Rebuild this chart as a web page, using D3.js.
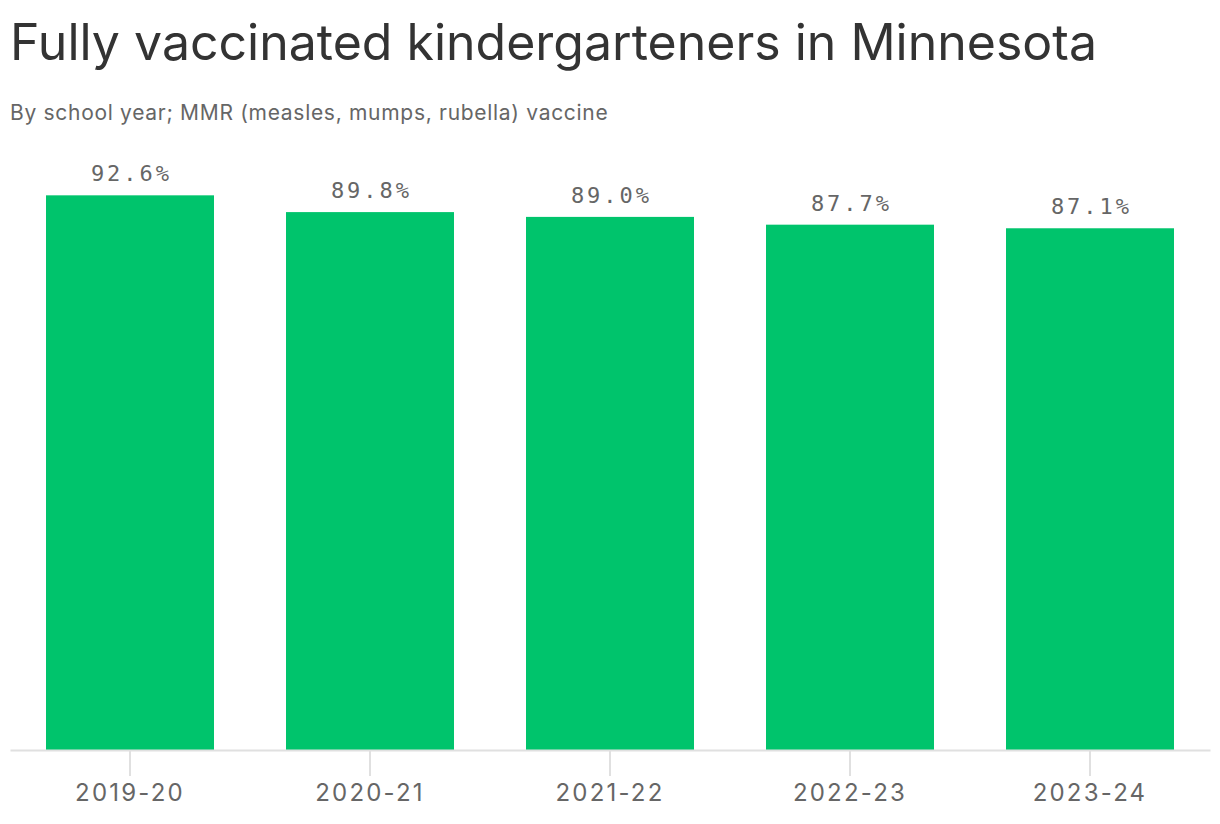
<!DOCTYPE html>
<html lang="en">
  <head>
    <meta charset="UTF-8" />
    <title>Fully vaccinated kindergarteners in Minnesota</title>
    <script src="https://d3js.org/d3.v7.min.js"></script>
    <style>
      body {
        margin: 0;
        background: #fff;
        font-family: Inter, sans-serif;
      }
      .title {
        fill: #333;
        font-size: 50px;
        letter-spacing: 0px;
      }
      .subtitle {
        fill: #666;
        font-size: 21px;
        letter-spacing: 0.7px;
      }
      .value {
        fill: #666;
        font-family: "DejaVu Sans Mono", monospace;
        font-size: 22px;
        letter-spacing: 3px;
      }
      .x-axis text {
        fill: #666;
        font-family: Inter, sans-serif;
        font-size: 24px;
        letter-spacing: 2.2px;
      }
      .x-axis line,
      .x-axis path {
        stroke: #e0e0e0;
        stroke-width: 2px;
      }
    </style>
  </head>
  <body>
    <svg id="chart" width="1220" height="824"></svg>

    <script>
      const years = ["2019-20", "2020-21", "2021-22", "2022-23", "2023-24"];
      const rates = [92.6, 89.8, 89.0, 87.7, 87.1];

      const svg = d3.select("#chart");
      const margin = { top: 151, right: 10, bottom: 74, left: 10 };
      const width = +svg.attr("width") - margin.left - margin.right;
      const height = +svg.attr("height") - margin.top - margin.bottom;

      svg.append("text").attr("class", "title").attr("x", 10).attr("y", 60)
        .text("Fully vaccinated kindergarteners in Minnesota");
      svg.append("text").attr("class", "subtitle").attr("x", 10).attr("y", 120)
        .text("By school year; MMR (measles, mumps, rubella) vaccine");

      const g = svg
        .append("g")
        .attr("transform", `translate(${margin.left},${margin.top})`);

      const x = d3.scaleBand().domain(years).range([0, width])
        .paddingInner(0.3).paddingOuter(0.15);
      const y = d3.scaleLinear().domain([0, 100]).range([height, 0]);

      // bars
      g.selectAll("rect")
        .data(years)
        .join("rect")
        .attr("x", (d) => x(d))
        .attr("y", (d, i) => y(rates[i]))
        .attr("width", x.bandwidth())
        .attr("height", (d, i) => height - y(rates[i]))
        .attr("fill", "#00c46c");

      // value labels
      g.selectAll(".value")
        .data(years)
        .join("text")
        .attr("class", "value")
        .attr("x", (d) => x(d) + x.bandwidth() / 2 + 1.5)
        .attr("y", (d, i) => y(rates[i]) - 14)
        .attr("text-anchor", "middle")
        .text((d, i) => d3.format(".1f")(rates[i]) + "%");

      // axis
      g.append("g")
        .attr("class", "x-axis")
        .attr("transform", `translate(0,${height})`)
        .call(d3.axisBottom(x).tickSizeOuter(0).tickSizeInner(26).tickPadding(8));
    </script>
  </body>
</html>
